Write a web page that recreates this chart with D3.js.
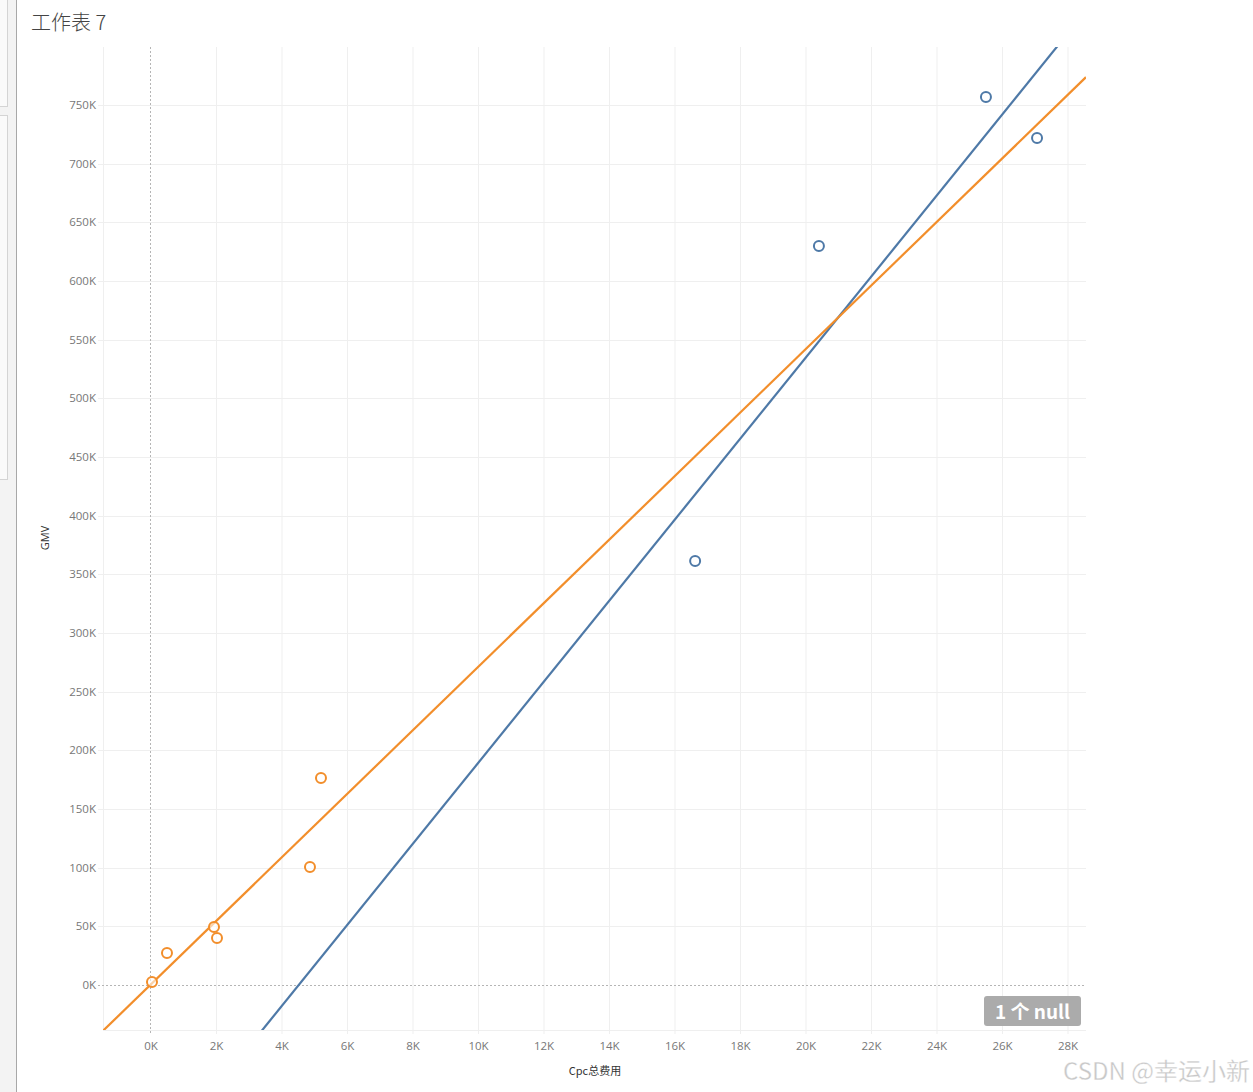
<!DOCTYPE html>
<html>
<head>
<meta charset="utf-8">
<script src="https://cdn.jsdelivr.net/npm/d3@7"></script>
<style>
  html, body { margin: 0; padding: 0; background: #fff; }
  svg { display: block; }
</style>
</head>
<body>
<svg id="chart" width="1253" height="1092"></svg>
<script>
// ---- Data ----
const title = "工作表 7";
const xLabel = "Cpc总费用";
const yLabel = "GMV";
// Orange series (low spend)
const orangeX = [46, 504, 1939, 2031, 4870, 5206];
const orangeY = [2600, 27300, 49400, 40000, 100600, 176400];
// Blue series (high spend)
const blueX = [16630, 20410, 25510, 27070];
const blueY = [361400, 629800, 756800, 721900];
const xTicks = [0, 2000, 4000, 6000, 8000, 10000, 12000, 14000, 16000, 18000, 20000, 22000, 24000, 26000, 28000];
const yTicks = [0, 50000, 100000, 150000, 200000, 250000, 300000, 350000, 400000, 450000, 500000, 550000, 600000, 650000, 700000, 750000];
const nullNote = "1 个 null";
const watermark = "CSDN @幸运小新";

const colors = { blue: "#4e79a7", orange: "#f28e2b" };

const svg = d3.select("#chart");
const W = 1253, H = 1092;

// left side panel chrome
svg.append("rect").attr("x", 0).attr("y", 0).attr("width", 16).attr("height", H).attr("fill", "#f3f3f3");
svg.append("rect").attr("x", -1).attr("y", -1).attr("width", 8.5).attr("height", 107.5).attr("fill", "#fafafa").attr("stroke", "#d4d4d4");
svg.append("rect").attr("x", -1).attr("y", 115.5).attr("width", 8.5).attr("height", 364).attr("fill", "#fafafa").attr("stroke", "#d4d4d4");
svg.append("line").attr("x1", 16.5).attr("x2", 16.5).attr("y1", 0).attr("y2", H).attr("stroke", "#a8a8a8").attr("stroke-width", 1);

// plot area
const plot = { left: 103, right: 1086, top: 47, bottom: 1030 };
const x = d3.scaleLinear().domain([-1450, 28565]).range([plot.left, plot.right]);
const y = d3.scaleLinear().domain([-38400, 799400]).range([plot.bottom, plot.top]);

// title
svg.append("text").attr("x", 31).attr("y", 30)
  .attr("font-family", "'Noto Sans CJK SC', 'Noto Sans', sans-serif")
  .attr("font-size", 20).attr("font-weight", 300).attr("fill", "#444")
  .text(title);

// gridlines
const grid = svg.append("g");
grid.selectAll(".vg").data(xTicks).join("line")
  .attr("x1", d => x(d) + 0.5).attr("x2", d => x(d) + 0.5)
  .attr("y1", plot.top).attr("y2", plot.bottom + 4)
  .attr("stroke", d => d === 0 ? "none" : "#efefef");
grid.selectAll(".hg").data(yTicks).join("line")
  .attr("x1", plot.left - 5).attr("x2", plot.right)
  .attr("y1", d => Math.round(y(d)) + 0.5).attr("y2", d => Math.round(y(d)) + 0.5)
  .attr("stroke", d => d === 0 ? "none" : "#efefef");
// axis borders (light)
svg.append("line").attr("x1", plot.left + 0.5).attr("x2", plot.left + 0.5).attr("y1", plot.top).attr("y2", plot.bottom)
  .attr("stroke", "#efefef");
svg.append("line").attr("x1", plot.left).attr("x2", plot.right).attr("y1", plot.bottom + 0.5).attr("y2", plot.bottom + 0.5)
  .attr("stroke", "#efefef");
// zero lines (dashed)
svg.append("line").attr("x1", Math.round(x(0)) + 0.5).attr("x2", Math.round(x(0)) + 0.5).attr("y1", plot.top).attr("y2", plot.bottom + 4)
  .attr("stroke", "#b5b5b5").attr("stroke-dasharray", "2,2");
svg.append("line").attr("x1", plot.left - 5).attr("x2", plot.right).attr("y1", Math.round(y(0)) + 0.5).attr("y2", Math.round(y(0)) + 0.5)
  .attr("stroke", "#b5b5b5").attr("stroke-dasharray", "2,2");

// axes (labels only; lines drawn above)
const fmtK = d => (d / 1000) + "K";
const xAxis = d3.axisBottom(x).tickValues(xTicks).tickFormat(fmtK).tickSize(0).tickPadding(10);
const yAxis = d3.axisLeft(y).tickValues(yTicks).tickFormat(fmtK).tickSize(0).tickPadding(7);
const gx = svg.append("g").attr("transform", `translate(0,${plot.bottom + 2})`).call(xAxis);
const gy = svg.append("g").attr("transform", `translate(${plot.left},0)`).call(yAxis);
[gx, gy].forEach(g => {
  g.select(".domain").remove();
  g.selectAll("text").attr("font-family", "'Open Sans', 'Noto Sans', sans-serif")
    .attr("font-size", 11.5).attr("fill", "#777");
});

// axis titles
svg.append("text").attr("x", 595).attr("y", 1075).attr("text-anchor", "middle")
  .attr("font-family", "'Noto Sans CJK SC', 'Noto Sans', sans-serif").attr("font-size", 11).attr("fill", "#333")
  .text(xLabel);
svg.append("text").attr("transform", "translate(49,538) rotate(-90)").attr("text-anchor", "middle")
  .attr("font-family", "'Open Sans', 'Noto Sans', sans-serif").attr("font-size", 11).attr("fill", "#333")
  .text(yLabel);

// clip
svg.append("clipPath").attr("id", "clip").append("rect")
  .attr("x", plot.left).attr("y", plot.top).attr("width", plot.right - plot.left).attr("height", plot.bottom - plot.top);

// least-squares trend lines
function fit(xs, ys) {
  const n = xs.length, mx = d3.mean(xs), my = d3.mean(ys);
  let sxy = 0, sxx = 0;
  for (let i = 0; i < n; i++) { sxy += (xs[i] - mx) * (ys[i] - my); sxx += (xs[i] - mx) ** 2; }
  const b = sxy / sxx;
  return { b, a: my - b * mx };
}
const series = [
  { xs: blueX, ys: blueY, color: colors.blue },
  { xs: orangeX, ys: orangeY, color: colors.orange }
];
const lineG = svg.append("g").attr("clip-path", "url(#clip)");
const dom = x.domain();
series.forEach(s => {
  const f = fit(s.xs, s.ys);
  const pts = [dom[0], dom[1]].map(v => [v, f.a + f.b * v]);
  lineG.append("path")
    .attr("d", d3.line().x(d => x(d[0])).y(d => y(d[1]))(pts))
    .attr("fill", "none").attr("stroke", s.color).attr("stroke-width", 2.2);
});
// points
series.forEach(s => {
  lineG.selectAll(null).data(s.xs.map((v, i) => [v, s.ys[i]])).join("circle")
    .attr("cx", d => x(d[0])).attr("cy", d => y(d[1])).attr("r", 5)
    .attr("fill", "#fff").attr("fill-opacity", 0.6).attr("stroke", s.color).attr("stroke-width", 2);
});

// null badge
svg.append("rect").attr("x", 984).attr("y", 996).attr("width", 97).attr("height", 30).attr("rx", 3)
  .attr("fill", "#ababab");
svg.append("text").attr("x", 1032.5).attr("y", 1018.5).attr("text-anchor", "middle")
  .attr("font-family", "'Noto Sans CJK SC', 'Noto Sans', sans-serif").attr("font-size", 19).attr("font-weight", 700)
  .attr("fill", "#fff").text(nullNote);

// watermark
svg.append("text").attr("x", 1250).attr("y", 1080).attr("text-anchor", "end")
  .attr("font-family", "'Noto Sans CJK SC', 'Noto Sans', sans-serif").attr("font-size", 24)
  .attr("fill", "#c8c8c8").attr("stroke", "#fff").attr("stroke-width", 0.3)
  .text(watermark);
</script>
</body>
</html>
